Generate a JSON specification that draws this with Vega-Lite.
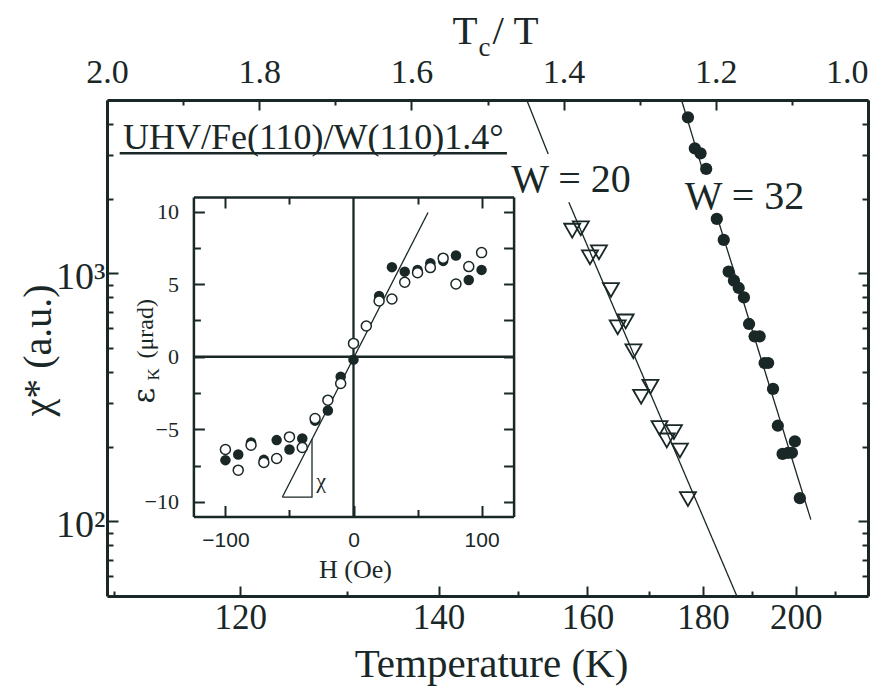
{
  "$schema": "https://vega.github.io/schema/vega-lite/v6.json",
  "width": 761,
  "height": 496,
  "autosize": {"type": "none"},
  "padding": {"left": 107, "top": 100, "right": 26, "bottom": 93},
  "background": "white",
  "config": {
    "view": {"stroke": null},
    "axis": {
      "grid": false,
      "domainColor": "#1a2727",
      "tickColor": "#1a2727",
      "labelColor": "#1a2727",
      "titleColor": "#1a2727",
      "labelFont": "Liberation Serif",
      "titleFont": "Liberation Serif",
      "titleFontWeight": "normal",
      "domainWidth": 2.5,
      "tickWidth": 2,
      "labelOverlap": false
    },
    "text": {"font": "Liberation Serif", "color": "#1a2727"}
  },
  "datasets": {
    "w20": [
      {"T": 157.7, "chi": 1486}, {"T": 159.0, "chi": 1519}, {"T": 160.4, "chi": 1160},
      {"T": 161.8, "chi": 1215}, {"T": 163.7, "chi": 857}, {"T": 164.8, "chi": 606},
      {"T": 166.1, "chi": 640}, {"T": 167.4, "chi": 485}, {"T": 168.7, "chi": 318},
      {"T": 170.3, "chi": 349}, {"T": 171.9, "chi": 238}, {"T": 173.2, "chi": 212},
      {"T": 174.5, "chi": 229}, {"T": 175.6, "chi": 193}, {"T": 177.1, "chi": 123}
    ],
    "w32": [
      {"T": 177.1, "chi": 4256}, {"T": 178.4, "chi": 3192}, {"T": 179.5, "chi": 3047},
      {"T": 180.6, "chi": 2636}, {"T": 182.7, "chi": 1657}, {"T": 184.1, "chi": 1364},
      {"T": 185.1, "chi": 1016}, {"T": 186.2, "chi": 934}, {"T": 187.2, "chi": 873},
      {"T": 188.3, "chi": 800}, {"T": 189.4, "chi": 625}, {"T": 190.6, "chi": 557},
      {"T": 191.7, "chi": 557}, {"T": 192.8, "chi": 435}, {"T": 193.6, "chi": 435},
      {"T": 194.7, "chi": 342}, {"T": 195.8, "chi": 243}, {"T": 199.8, "chi": 210},
      {"T": 196.9, "chi": 187}, {"T": 198.2, "chi": 189}, {"T": 199.1, "chi": 189},
      {"T": 201.0, "chi": 124}
    ],
    "fit": [
      {"segment": "W20a", "T": 151.2, "chi": 5000}, {"segment": "W20a", "T": 154.2, "chi": 3030},
      {"segment": "W20b", "T": 157.2, "chi": 1933}, {"segment": "W20b", "T": 186.8, "chi": 50},
      {"segment": "W32a", "T": 175.9, "chi": 5000}, {"segment": "W32a", "T": 180.0, "chi": 2570},
      {"segment": "W32b", "T": 182.9, "chi": 1657}, {"segment": "W32b", "T": 203.7, "chi": 101.6}
    ],
    "wLabels": [
      {"label": "W = 20", "T": 149.1, "chi": 2121},
      {"label": "W = 32", "T": 176.5, "chi": 1818}
    ],
    "sample": [
      {"label": "UHV/Fe(110)/W(110)1.4°", "T": 110.66, "chi": 3175}
    ],
    "loopFilled": [
      {"H": -100, "eps": -7.12}, {"H": -90, "eps": -6.73}, {"H": -80, "eps": -5.9},
      {"H": -70, "eps": -7.1}, {"H": -60, "eps": -5.74}, {"H": -50, "eps": -6.39},
      {"H": -40, "eps": -5.63}, {"H": -30, "eps": -4.4}, {"H": -20, "eps": -3.7},
      {"H": -10, "eps": -1.38}, {"H": 0, "eps": -0.2}, {"H": 20, "eps": 4.19},
      {"H": 30, "eps": 6.17}, {"H": 40, "eps": 5.86}, {"H": 50, "eps": 5.98},
      {"H": 60, "eps": 6.44}, {"H": 70, "eps": 6.6}, {"H": 80, "eps": 6.97},
      {"H": 90, "eps": 5.29}, {"H": 100, "eps": 5.98}
    ],
    "loopOpen": [
      {"H": -100, "eps": -6.39}, {"H": -90, "eps": -7.81}, {"H": -80, "eps": -6.09},
      {"H": -70, "eps": -7.28}, {"H": -60, "eps": -7.01}, {"H": -50, "eps": -5.52},
      {"H": -40, "eps": -6.25}, {"H": -30, "eps": -4.25}, {"H": -20, "eps": -2.99},
      {"H": -10, "eps": -1.84}, {"H": 0, "eps": 0.92}, {"H": 10, "eps": 2.12},
      {"H": 20, "eps": 3.84}, {"H": 30, "eps": 3.98}, {"H": 40, "eps": 5.13},
      {"H": 50, "eps": 5.79}, {"H": 60, "eps": 6.14}, {"H": 70, "eps": 6.79},
      {"H": 80, "eps": 5.01}, {"H": 90, "eps": 6.21}, {"H": 100, "eps": 7.17}
    ],
    "slope": [
      {"H": -55.5, "eps": -9.66}, {"H": 58.2, "eps": 9.93}
    ],
    "slopeTriangle": [
      {"i": 0, "H": -32.4, "eps": -5.68}, {"i": 1, "H": -32.4, "eps": -9.66}, {"i": 2, "H": -55.5, "eps": -9.66}
    ]
  },
  "layer": [
    {
      "resolve": {"axis": {"x": "independent", "y": "independent"}},
      "layer": [
        {
          "data": {"name": "fit"},
          "mark": {"type": "line", "color": "#1a2727", "strokeWidth": 1.3},
          "encoding": {
            "x": {"field": "T", "type": "quantitative",
              "scale": {"type": "pow", "exponent": -1, "domain": [109.5, 219], "nice": false, "zero": false},
              "axis": {"orient": "top", "values": [109.5, 121.6667, 136.875, 156.4286, 182.5, 219],
                "labelExpr": "format(219 / datum.value, '.1f')", "tickSize": -10, "labelFontSize": 34,
                "labelBaseline": "alphabetic", "labelPadding": 28,
                "labelAlign": {"condition": {"test": "datum.value > 200", "value": "right"}, "value": "center"},
                "title": "T", "titleFontSize": 41, "titleX": 345, "titleY": -57, "titleAlign": "left",
                "titleBaseline": "alphabetic", "domainWidth": 3}},
            "y": {"field": "chi", "type": "quantitative",
              "scale": {"type": "log", "domain": [50, 5000], "nice": false},
              "axis": {"orient": "right", "values": [100, 1000], "tickSize": -10, "labels": false, "title": null, "domainWidth": 3}},
            "detail": {"field": "segment"}
          }
        },
        {
          "data": {"name": "w20"},
          "mark": {"type": "point", "shape": "triangle-down", "filled": false, "size": 256, "strokeWidth": 1.8, "color": "#1a2727", "opacity": 1},
          "encoding": {
            "x": {"field": "T", "type": "quantitative",
              "scale": {"type": "pow", "exponent": -1, "domain": [109.5, 219], "nice": false, "zero": false},
              "axis": {"orient": "bottom", "values": [120, 140, 160, 180, 200], "tickSize": -10, "labelFontSize": 35,
                "labelBaseline": "alphabetic", "labelPadding": 42, "title": "Temperature (K)", "titleFontSize": 41,
                "titleX": 384, "titleY": 80, "titleAlign": "center", "titleBaseline": "alphabetic", "domainWidth": 3}},
            "y": {"field": "chi", "type": "quantitative",
              "scale": {"type": "log", "domain": [50, 5000], "nice": false},
              "axis": {"orient": "left", "values": [100, 1000], "labelExpr": "datum.value == 100 ? '10²' : '10³'",
                "tickSize": -11, "labelFontSize": 38, "labelAlign": "right", "labelBaseline": "alphabetic",
                "labelOffset": 15, "labelPadding": 13, "title": "χ* (a.u.)", "titleFontSize": 40, "titleAngle": -90,
                "titleX": -57, "titleY": 250, "titleAlign": "center", "titleBaseline": "alphabetic", "domainWidth": 3}}
          }
        },
        {
          "data": {"name": "w32"},
          "mark": {"type": "circle", "size": 150, "color": "#1a2727", "opacity": 1},
          "encoding": {
            "x": {"field": "T", "type": "quantitative",
              "scale": {"type": "pow", "exponent": -1, "domain": [109.5, 219], "nice": false, "zero": false},
              "axis": {"orient": "bottom", "values": [110, 130, 150, 170, 190, 210], "tickSize": -5, "labels": false, "domain": false, "title": null}},
            "y": {"field": "chi", "type": "quantitative",
              "scale": {"type": "log", "domain": [50, 5000], "nice": false},
              "axis": {"orient": "left", "values": [60, 70, 80, 90, 200, 300, 400, 500, 600, 700, 800, 900, 2000, 3000, 4000],
                "tickSize": -6, "labels": false, "domain": false, "title": null}}
          }
        },
        {
          "data": {"name": "wLabels"},
          "mark": {"type": "text", "fontSize": 40, "align": "left", "baseline": "alphabetic"},
          "encoding": {
            "x": {"field": "T", "type": "quantitative",
              "scale": {"type": "pow", "exponent": -1, "domain": [109.5, 219], "nice": false, "zero": false},
              "axis": {"orient": "top", "values": [115.263, 128.824, 146, 168.462, 199.091], "tickSize": -5, "labels": false,
                "domain": false, "title": "c", "titleFontSize": 27, "titleX": 371, "titleY": -45, "titleAlign": "left",
                "titleBaseline": "alphabetic"}},
            "y": {"field": "chi", "type": "quantitative",
              "scale": {"type": "log", "domain": [50, 5000], "nice": false},
              "axis": {"orient": "right", "values": [60, 70, 80, 90, 200, 300, 400, 500, 600, 700, 800, 900, 2000, 3000, 4000],
                "tickSize": -6, "labels": false, "domain": false, "title": null}},
            "text": {"field": "label"}
          }
        },
        {
          "data": {"name": "sample"},
          "mark": {"type": "text", "fontSize": 36, "align": "left", "baseline": "alphabetic"},
          "encoding": {
            "x": {"field": "T", "type": "quantitative",
              "scale": {"type": "pow", "exponent": -1, "domain": [109.5, 219], "nice": false, "zero": false},
              "axis": {"orient": "top", "ticks": false, "labels": false, "domain": false, "title": "/ T", "titleFontSize": 41,
                "titleX": 385, "titleY": -57, "titleAlign": "left", "titleBaseline": "alphabetic"}},
            "y": {"field": "chi", "type": "quantitative",
              "scale": {"type": "log", "domain": [50, 5000], "nice": false}, "axis": null},
            "text": {"field": "label"}
          }
        },
        {
          "data": {"values": [{}]},
          "mark": {"type": "rule", "color": "#1a2727", "strokeWidth": 2.5},
          "encoding": {
            "x": {"datum": 110.42, "type": "quantitative",
              "scale": {"type": "pow", "exponent": -1, "domain": [109.5, 219], "nice": false, "zero": false}, "axis": null},
            "x2": {"datum": 148.53},
            "y": {"datum": 3052, "type": "quantitative",
              "scale": {"type": "log", "domain": [50, 5000], "nice": false}, "axis": null}
          }
        }
      ]
    },
    {
      "resolve": {"axis": {"x": "independent", "y": "independent"}},
      "layer": [
        {
          "data": {"values": [{}]},
          "mark": {"type": "rule", "color": "#1a2727", "strokeWidth": 2.3},
          "encoding": {
            "x": {"datum": 0, "type": "quantitative",
              "scale": {"domain": [-125, 125], "range": [86.4, 406.6], "nice": false, "zero": false}, "axis": null},
            "y": {"datum": -11, "type": "quantitative",
              "scale": {"domain": [-11, 11], "range": [416.5, 97], "nice": false, "zero": false}, "axis": null},
            "y2": {"datum": 11}
          }
        },
        {
          "data": {"values": [{}]},
          "mark": {"type": "rule", "color": "#1a2727", "strokeWidth": 2.3},
          "encoding": {
            "x": {"datum": -125, "type": "quantitative",
              "scale": {"domain": [-125, 125], "range": [86.4, 406.6], "nice": false, "zero": false}, "axis": null},
            "x2": {"datum": 125},
            "y": {"datum": 0, "type": "quantitative",
              "scale": {"domain": [-11, 11], "range": [416.5, 97], "nice": false, "zero": false}, "axis": null}
          }
        },
        {
          "data": {"name": "slope"},
          "mark": {"type": "line", "color": "#1a2727", "strokeWidth": 1.3},
          "encoding": {
            "x": {"field": "H", "type": "quantitative",
              "scale": {"domain": [-125, 125], "range": [86.4, 406.6], "nice": false, "zero": false},
              "axis": {"orient": "top", "offset": -97, "values": [-100, 100], "tickSize": -11, "labels": false, "title": null}},
            "y": {"field": "eps", "type": "quantitative",
              "scale": {"domain": [-11, 11], "range": [416.5, 97], "nice": false, "zero": false},
              "axis": {"orient": "right", "offset": -354.4, "values": [-10, -5, 0, 5, 10], "tickSize": -10, "labels": false,
                "title": "(μrad)", "titleFontSize": 24, "titleAngle": -90, "titleX": -360.6, "titleY": 258,
                "titleAlign": "left", "titleBaseline": "alphabetic"}}
          }
        },
        {
          "data": {"name": "slopeTriangle"},
          "mark": {"type": "line", "color": "#1a2727", "strokeWidth": 1.3},
          "encoding": {
            "x": {"field": "H", "type": "quantitative",
              "scale": {"domain": [-125, 125], "range": [86.4, 406.6], "nice": false, "zero": false},
              "axis": {"orient": "top", "offset": -97, "values": [-50, 50], "tickSize": -7, "labels": false, "domain": false, "title": null}},
            "y": {"field": "eps", "type": "quantitative",
              "scale": {"domain": [-11, 11], "range": [416.5, 97], "nice": false, "zero": false},
              "axis": {"orient": "right", "offset": -354.4, "values": [-7.5, -2.5, 2.5, 7.5], "tickSize": -10, "labels": false,
                "domain": false, "title": null}},
            "order": {"field": "i"}
          }
        },
        {
          "data": {"name": "loopFilled"},
          "mark": {"type": "circle", "size": 110, "color": "#1a2727", "opacity": 1},
          "encoding": {
            "x": {"field": "H", "type": "quantitative",
              "scale": {"domain": [-125, 125], "range": [86.4, 406.6], "nice": false, "zero": false},
              "axis": {"orient": "bottom", "offset": -79.5, "values": [-100, 0, 100], "tickSize": -11,
                "labelFont": "Liberation Sans", "labelFontSize": 21, "labelBaseline": "alphabetic", "labelPadding": 41,
                "title": "H (Oe)", "titleFontSize": 26, "titleX": 248, "titleY": 60.5, "titleAlign": "center",
                "titleBaseline": "alphabetic"}},
            "y": {"field": "eps", "type": "quantitative",
              "scale": {"domain": [-11, 11], "range": [416.5, 97], "nice": false, "zero": false},
              "axis": {"orient": "left", "offset": -86.4, "values": [-10, -5, 0, 5, 10], "tickSize": -11, "labelFontSize": 22,
                "labelPadding": 26, "labelBaseline": "middle", "title": "ε", "titleFont": "DejaVu Serif", "titleFontSize": 30, "titleAngle": -90,
                "titleX": -40.4, "titleY": 303, "titleAlign": "left", "titleBaseline": "alphabetic"}}
          }
        },
        {
          "data": {"name": "loopOpen"},
          "mark": {"type": "point", "shape": "circle", "size": 100, "filled": true, "fill": "white", "stroke": "#1a2727", "strokeWidth": 1.5, "opacity": 1},
          "encoding": {
            "x": {"field": "H", "type": "quantitative",
              "scale": {"domain": [-125, 125], "range": [86.4, 406.6], "nice": false, "zero": false},
              "axis": {"orient": "bottom", "offset": -79.5, "values": [-50, 50], "tickSize": -7, "labels": false, "domain": false, "title": null}},
            "y": {"field": "eps", "type": "quantitative",
              "scale": {"domain": [-11, 11], "range": [416.5, 97], "nice": false, "zero": false},
              "axis": {"orient": "left", "offset": -86.4, "values": [-7.5, -2.5, 2.5, 7.5], "tickSize": -7, "labels": false,
                "domain": false, "title": "K", "titleFontSize": 17, "titleAngle": -90, "titleX": -35, "titleY": 280,
                "titleAlign": "left", "titleBaseline": "alphabetic"}}
          }
        },
        {
          "data": {"values": [{"label": "χ", "H": -29.0, "eps": -9.06}]},
          "mark": {"type": "text", "fontSize": 22, "align": "left", "baseline": "alphabetic"},
          "encoding": {
            "x": {"field": "H", "type": "quantitative",
              "scale": {"domain": [-125, 125], "range": [86.4, 406.6], "nice": false, "zero": false}, "axis": null},
            "y": {"field": "eps", "type": "quantitative",
              "scale": {"domain": [-11, 11], "range": [416.5, 97], "nice": false, "zero": false}, "axis": null},
            "text": {"field": "label"}
          }
        }
      ]
    }
  ],
  "resolve": {"scale": {"x": "independent", "y": "independent"}}
}
